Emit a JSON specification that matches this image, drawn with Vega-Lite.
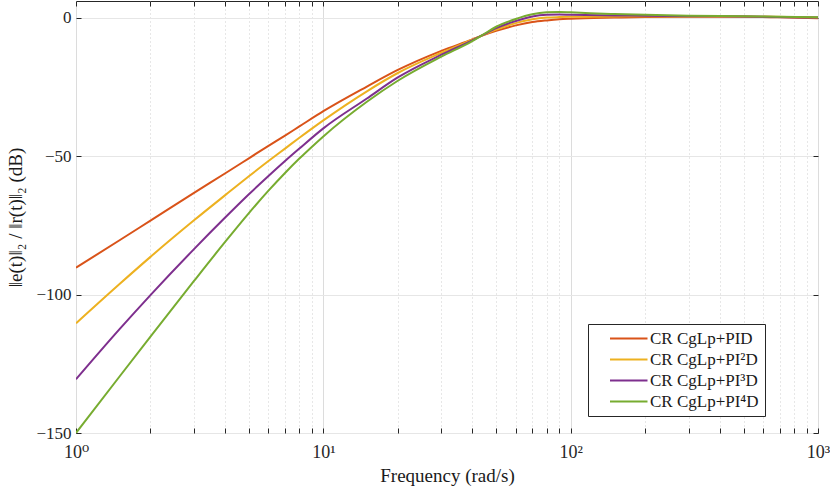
{
  "$schema": "https://vega.github.io/schema/vega-lite/v6.json",
  "width": 742,
  "height": 432,
  "autosize": "none",
  "padding": {"left": 76, "top": 1, "right": 12, "bottom": 54},
  "background": "white",
  "config": {
    "font": "Liberation Serif, DejaVu Serif, serif",
    "view": {"stroke": "#262626", "strokeWidth": 1}
  },
  "data": {
    "values": [
      {"f": 1, "db": -90.3, "s": "CR CgLp+PID"},
      {"f": 1.5, "db": -80.4, "s": "CR CgLp+PID"},
      {"f": 2, "db": -73.3, "s": "CR CgLp+PID"},
      {"f": 3, "db": -63.3, "s": "CR CgLp+PID"},
      {"f": 4, "db": -56.3, "s": "CR CgLp+PID"},
      {"f": 5, "db": -50.8, "s": "CR CgLp+PID"},
      {"f": 6, "db": -46.3, "s": "CR CgLp+PID"},
      {"f": 7, "db": -42.6, "s": "CR CgLp+PID"},
      {"f": 8, "db": -39.3, "s": "CR CgLp+PID"},
      {"f": 10, "db": -33.8, "s": "CR CgLp+PID"},
      {"f": 15, "db": -24.9, "s": "CR CgLp+PID"},
      {"f": 20, "db": -18.9, "s": "CR CgLp+PID"},
      {"f": 30, "db": -12, "s": "CR CgLp+PID"},
      {"f": 40, "db": -7.9, "s": "CR CgLp+PID"},
      {"f": 43.6, "db": -6.6, "s": "CR CgLp+PID"},
      {"f": 50, "db": -4.8, "s": "CR CgLp+PID"},
      {"f": 60, "db": -2.8, "s": "CR CgLp+PID"},
      {"f": 70, "db": -1.6, "s": "CR CgLp+PID"},
      {"f": 80, "db": -1.0, "s": "CR CgLp+PID"},
      {"f": 90, "db": -0.6, "s": "CR CgLp+PID"},
      {"f": 100, "db": -0.4, "s": "CR CgLp+PID"},
      {"f": 150, "db": 0, "s": "CR CgLp+PID"},
      {"f": 200, "db": 0.2, "s": "CR CgLp+PID"},
      {"f": 300, "db": 0.3, "s": "CR CgLp+PID"},
      {"f": 500, "db": 0.3, "s": "CR CgLp+PID"},
      {"f": 700, "db": 0.1, "s": "CR CgLp+PID"},
      {"f": 1000, "db": -0.2, "s": "CR CgLp+PID"},

      {"f": 1, "db": -110.4, "s": "CR CgLp+PI²D"},
      {"f": 1.5, "db": -96.2, "s": "CR CgLp+PI²D"},
      {"f": 2, "db": -86.4, "s": "CR CgLp+PI²D"},
      {"f": 3, "db": -73.2, "s": "CR CgLp+PI²D"},
      {"f": 4, "db": -64.2, "s": "CR CgLp+PI²D"},
      {"f": 5, "db": -57.3, "s": "CR CgLp+PI²D"},
      {"f": 6, "db": -51.8, "s": "CR CgLp+PI²D"},
      {"f": 7, "db": -47.3, "s": "CR CgLp+PI²D"},
      {"f": 8, "db": -43.4, "s": "CR CgLp+PI²D"},
      {"f": 10, "db": -37.1, "s": "CR CgLp+PI²D"},
      {"f": 15, "db": -26.6, "s": "CR CgLp+PI²D"},
      {"f": 20, "db": -20, "s": "CR CgLp+PI²D"},
      {"f": 30, "db": -12.7, "s": "CR CgLp+PI²D"},
      {"f": 40, "db": -8.0, "s": "CR CgLp+PI²D"},
      {"f": 43.6, "db": -6.5, "s": "CR CgLp+PI²D"},
      {"f": 50, "db": -4.3, "s": "CR CgLp+PI²D"},
      {"f": 60, "db": -2.0, "s": "CR CgLp+PI²D"},
      {"f": 70, "db": -0.6, "s": "CR CgLp+PI²D"},
      {"f": 80, "db": 0, "s": "CR CgLp+PI²D"},
      {"f": 90, "db": 0.2, "s": "CR CgLp+PI²D"},
      {"f": 100, "db": 0.3, "s": "CR CgLp+PI²D"},
      {"f": 150, "db": 0.4, "s": "CR CgLp+PI²D"},
      {"f": 200, "db": 0.5, "s": "CR CgLp+PI²D"},
      {"f": 300, "db": 0.4, "s": "CR CgLp+PI²D"},
      {"f": 500, "db": 0.4, "s": "CR CgLp+PI²D"},
      {"f": 1000, "db": 0, "s": "CR CgLp+PI²D"},

      {"f": 1, "db": -130.6, "s": "CR CgLp+PI³D"},
      {"f": 1.5, "db": -112.5, "s": "CR CgLp+PI³D"},
      {"f": 2, "db": -100.2, "s": "CR CgLp+PI³D"},
      {"f": 3, "db": -83.6, "s": "CR CgLp+PI³D"},
      {"f": 4, "db": -72.3, "s": "CR CgLp+PI³D"},
      {"f": 5, "db": -63.8, "s": "CR CgLp+PI³D"},
      {"f": 6, "db": -57.2, "s": "CR CgLp+PI³D"},
      {"f": 7, "db": -51.8, "s": "CR CgLp+PI³D"},
      {"f": 8, "db": -47.3, "s": "CR CgLp+PI³D"},
      {"f": 10, "db": -40, "s": "CR CgLp+PI³D"},
      {"f": 15, "db": -29.2, "s": "CR CgLp+PI³D"},
      {"f": 20, "db": -21.6, "s": "CR CgLp+PI³D"},
      {"f": 30, "db": -13.4, "s": "CR CgLp+PI³D"},
      {"f": 40, "db": -8.2, "s": "CR CgLp+PI³D"},
      {"f": 43.6, "db": -6.5, "s": "CR CgLp+PI³D"},
      {"f": 50, "db": -3.8, "s": "CR CgLp+PI³D"},
      {"f": 60, "db": -1.2, "s": "CR CgLp+PI³D"},
      {"f": 70, "db": 0.4, "s": "CR CgLp+PI³D"},
      {"f": 80, "db": 1.0, "s": "CR CgLp+PI³D"},
      {"f": 90, "db": 1.1, "s": "CR CgLp+PI³D"},
      {"f": 100, "db": 1.0, "s": "CR CgLp+PI³D"},
      {"f": 150, "db": 0.8, "s": "CR CgLp+PI³D"},
      {"f": 200, "db": 0.7, "s": "CR CgLp+PI³D"},
      {"f": 300, "db": 0.5, "s": "CR CgLp+PI³D"},
      {"f": 500, "db": 0.4, "s": "CR CgLp+PI³D"},
      {"f": 1000, "db": 0, "s": "CR CgLp+PI³D"},

      {"f": 1, "db": -150, "s": "CR CgLp+PI⁴D"},
      {"f": 1.5, "db": -129.6, "s": "CR CgLp+PI⁴D"},
      {"f": 2, "db": -115.2, "s": "CR CgLp+PI⁴D"},
      {"f": 3, "db": -95.1, "s": "CR CgLp+PI⁴D"},
      {"f": 4, "db": -81.1, "s": "CR CgLp+PI⁴D"},
      {"f": 5, "db": -70.6, "s": "CR CgLp+PI⁴D"},
      {"f": 6, "db": -62.5, "s": "CR CgLp+PI⁴D"},
      {"f": 7, "db": -56.1, "s": "CR CgLp+PI⁴D"},
      {"f": 8, "db": -50.9, "s": "CR CgLp+PI⁴D"},
      {"f": 9, "db": -46.6, "s": "CR CgLp+PI⁴D"},
      {"f": 10, "db": -42.9, "s": "CR CgLp+PI⁴D"},
      {"f": 15, "db": -30.4, "s": "CR CgLp+PI⁴D"},
      {"f": 20, "db": -22.8, "s": "CR CgLp+PI⁴D"},
      {"f": 30, "db": -14.1, "s": "CR CgLp+PI⁴D"},
      {"f": 40, "db": -8.5, "s": "CR CgLp+PI⁴D"},
      {"f": 43.6, "db": -6.5, "s": "CR CgLp+PI⁴D"},
      {"f": 50, "db": -3.3, "s": "CR CgLp+PI⁴D"},
      {"f": 60, "db": -0.5, "s": "CR CgLp+PI⁴D"},
      {"f": 70, "db": 1.2, "s": "CR CgLp+PI⁴D"},
      {"f": 80, "db": 1.9, "s": "CR CgLp+PI⁴D"},
      {"f": 90, "db": 2.05, "s": "CR CgLp+PI⁴D"},
      {"f": 100, "db": 1.9, "s": "CR CgLp+PI⁴D"},
      {"f": 120, "db": 1.6, "s": "CR CgLp+PI⁴D"},
      {"f": 150, "db": 1.3, "s": "CR CgLp+PI⁴D"},
      {"f": 200, "db": 1.0, "s": "CR CgLp+PI⁴D"},
      {"f": 300, "db": 0.7, "s": "CR CgLp+PI⁴D"},
      {"f": 500, "db": 0.5, "s": "CR CgLp+PI⁴D"},
      {"f": 1000, "db": 0.1, "s": "CR CgLp+PI⁴D"}
    ]
  },
  "layer": [
    {
      "mark": {"type": "line", "strokeWidth": 2, "interpolate": "monotone", "clip": true},
      "encoding": {
        "x": {
          "field": "f",
          "type": "quantitative",
          "scale": {"type": "log", "domain": [1, 1000]},
          "axis": {
            "values": [1, 2, 3, 4, 5, 6, 7, 8, 9, 10, 20, 30, 40, 50, 60, 70, 80, 90, 100, 200, 300, 400, 500, 600, 700, 800, 900, 1000],
            "labelExpr": "datum.value == 1 ? '10⁰' : datum.value == 10 ? '10¹' : datum.value == 100 ? '10²' : datum.value == 1000 ? '10³' : ''",
            "labelOverlap": false,
            "labelBound": false,
            "labelFlush": false,
            "labelFont": "Liberation Serif, DejaVu Serif, serif",
            "labelFontSize": 18,
            "labelColor": "#262626",
            "labelPadding": 15,
            "tickSize": -5,
            "tickColor": "#262626",
            "domain": false,
            "grid": true,
            "gridColor": {"condition": {"test": "indexof([1, 10, 100, 1000], datum.value) >= 0", "value": "#dcdcdc"}, "value": "#cfcfcf"},
            "gridDash": {"condition": {"test": "indexof([1, 10, 100, 1000], datum.value) >= 0", "value": []}, "value": [1, 3]},
            "gridWidth": 1,
            "title": "Frequency (rad/s)",
            "titleFont": "Liberation Serif, DejaVu Serif, serif",
            "titleFontSize": 19,
            "titleFontWeight": "normal",
            "titleColor": "#1a1a1a",
            "titlePadding": 5
          }
        },
        "y": {
          "field": "db",
          "type": "quantitative",
          "scale": {"domain": [-150, 6], "nice": false, "zero": false},
          "axis": {
            "values": [0, -50, -100, -150],
            "labelFont": "Liberation Serif, DejaVu Serif, serif",
            "labelFontSize": 17,
            "labelColor": "#262626",
            "labelPadding": 10,
            "tickSize": -5,
            "tickColor": "#262626",
            "domain": false,
            "grid": true,
            "gridColor": "#e6e6e6",
            "title": "‖e(t)‖₂ / ‖r(t)‖₂  (dB)",
            "titleFont": "Liberation Serif, DejaVu Serif, serif",
            "titleFontSize": 19,
            "titleFontWeight": "normal",
            "titleColor": "#1a1a1a",
            "titlePadding": 10
          }
        },
        "color": {
          "field": "s",
          "type": "nominal",
          "scale": {
            "domain": ["CR CgLp+PID", "CR CgLp+PI²D", "CR CgLp+PI³D", "CR CgLp+PI⁴D"],
            "range": ["#D95319", "#EDB120", "#7E2F8E", "#77AC30"]
          },
          "legend": {
            "title": null,
            "orient": "none",
            "legendX": 512,
            "legendY": 323,
            "symbolType": "M1,0H6",
            "symbolSize": 225,
            "symbolStrokeWidth": 2,
            "labelFont": "Liberation Serif, DejaVu Serif, serif",
            "labelFontSize": 17,
            "labelColor": "#1a1a1a",
            "labelOffset": 39,
            "rowPadding": 3,
            "padding": 6,
            "strokeColor": "#262626",
            "fillColor": "white",
            "labelLimit": 300
          }
        }
      }
    },
    {
      "mark": {"type": "point", "opacity": 0},
      "encoding": {
        "x": {
          "field": "f",
          "type": "quantitative",
          "axis": {
            "orient": "top",
            "values": [1, 2, 3, 4, 5, 6, 7, 8, 9, 10, 20, 30, 40, 50, 60, 70, 80, 90, 100, 200, 300, 400, 500, 600, 700, 800, 900, 1000],
            "labels": false,
            "tickSize": -5,
            "tickColor": "#262626",
            "domain": false,
            "grid": false,
            "title": null
          }
        },
        "y": {
          "field": "db",
          "type": "quantitative",
          "axis": {
            "orient": "right",
            "values": [0, -50, -100, -150],
            "labels": false,
            "tickSize": -5,
            "tickColor": "#262626",
            "domain": false,
            "grid": false,
            "title": null
          }
        }
      }
    }
  ],
  "resolve": {"axis": {"x": "independent", "y": "independent"}}
}
